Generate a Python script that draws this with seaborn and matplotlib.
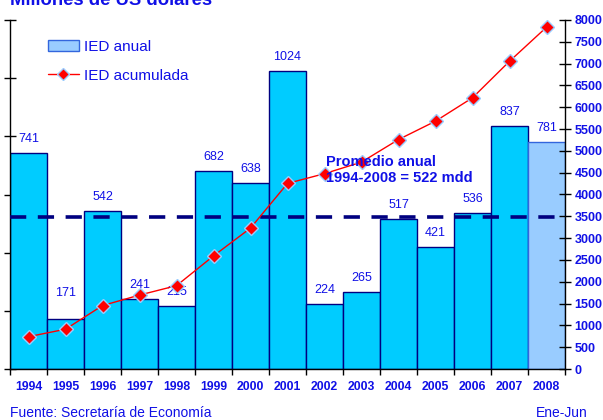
import numpy as np
import pandas as pd
import matplotlib
matplotlib.use('Agg')
import matplotlib.pyplot as plt
import seaborn as sns
from matplotlib.patches import Patch
from matplotlib.lines import Line2D

# datos (millones de US dolares)
anios = ['1994', '1995', '1996', '1997', '1998', '1999', '2000', '2001',
         '2002', '2003', '2004', '2005', '2006', '2007', '2008']
ied_anual = [741, 171, 542, 241, 215, 682, 638, 1024, 224, 265, 517, 421, 536, 837, 781]
ied_acumulada = [741, 912, 1454, 1695, 1910, 2592, 3230, 4254, 4478, 4743,
                 5260, 5681, 6217, 7054, 7835]
periodo = ['Anual'] * 14 + ['Ene-Jun']
promedio = 522

azul = '#1010E6'
marino = '#000080'

df = pd.DataFrame({'Anio': anios, 'IED': ied_anual, 'Periodo': periodo})

sns.set_style('white')
plt.rcParams['font.family'] = ['Liberation Sans', 'DejaVu Sans']

fig = plt.figure(figsize=(6.03, 4.2), dpi=100)
ax = fig.add_axes([10 / 603, 1 - 369 / 420, 555 / 603, 349 / 420])

sns.barplot(data=df, x='Anio', y='IED', hue='Periodo',
            palette={'Anual': '#00CCFF', 'Ene-Jun': '#99CCFF'}, saturation=1,
            dodge=False, width=1.0, legend=False, ax=ax, zorder=2)
for i, p in enumerate(ax.patches[:len(anios)]):
    p.set_edgecolor('#3366DD' if periodo[i] == 'Ene-Jun' else marino)
    p.set_linewidth(1.0)

ax.set_xlim(-0.5, len(anios) - 0.5)
ax.set_ylim(0, 1200)
ax.set_yticks(np.arange(0, 1201, 200))
ax.set_yticklabels([])
ax.tick_params(axis='y', direction='inout', length=8, width=1, color='black', left=True)
ax.set_xticks(np.arange(len(anios)))
ax.set_xticklabels(anios, color=azul, fontsize=8.8, fontweight='bold')
ax.tick_params(axis='x', which='major', length=0, pad=9)
ax.set_xticks(np.arange(-0.5, len(anios)), minor=True)
ax.tick_params(axis='x', which='minor', direction='out', length=4, width=1,
               color='black', bottom=True)
ax.set_xlabel('')
ax.set_ylabel('')
for s in ['top', 'right']:
    ax.spines[s].set_visible(False)
for s in ['left', 'bottom']:
    ax.spines[s].set_color('black')
    ax.spines[s].set_linewidth(1)

# linea del promedio
ax.axhline(promedio, color=marino, lw=2.6, dashes=(4.5, 3.2), zorder=3, clip_on=False)

# etiquetas de valores
for i, v in enumerate(ied_anual):
    off = 26 if v == 171 else 14
    ax.annotate(str(v), (i, v), xytext=(0, off), textcoords='offset pixels',
                ha='center', va='center', color=azul, fontsize=9)

# eje derecho: IED acumulada
ax2 = ax.twinx()
sns.lineplot(x=np.arange(len(anios)), y=ied_acumulada, ax=ax2, color='red', lw=1,
             marker='D', markersize=7, markerfacecolor='red',
             markeredgecolor='#99CCFF', markeredgewidth=1)
ax2.set_ylim(0, 8000)
ax2.set_yticks(np.arange(0, 8001, 500))
ax2.set_yticklabels([str(t) for t in range(0, 8001, 500)], color=azul,
                    fontweight='bold', fontsize=9)
ax2.tick_params(axis='y', direction='inout', length=8, width=1, color='black',
                right=True, pad=3)
ax2.set_ylabel('')
for s in ['top', 'left', 'bottom']:
    ax2.spines[s].set_visible(False)
ax2.spines['right'].set_color('black')
ax2.spines['right'].set_linewidth(1)

ax2.text(8.05, 4567, 'Promedio anual\n1994-2008 = 522 mdd', color=azul,
         fontsize=10.5, fontweight='bold', ha='left', va='center', linespacing=1.15,
         zorder=5)

handles = [Patch(facecolor='#99CCFF', edgecolor='#3366DD', lw=1),
           Line2D([], [], color='red', lw=1, marker='D', markersize=6,
                  markerfacecolor='red', markeredgecolor='#99CCFF')]
leg = ax2.legend(handles, ['IED anual', 'IED acumulada'], loc='upper left',
                 bbox_to_anchor=(48 / 603, 1 - 40 / 420), bbox_transform=fig.transFigure,
                 frameon=False, fontsize=11, borderpad=0, borderaxespad=0,
                 labelspacing=0.95, handlelength=2.0, handletextpad=0.35)
for t in leg.get_texts():
    t.set_color(azul)

fig.text(10 / 603, 1 - 5 / 420, 'Millones de US dólares', color=azul, fontsize=13.3,
         fontweight='bold', ha='left', va='baseline')
fig.text(10 / 603, 1 - 413 / 420, 'Fuente: Secretaría de Economía', color=azul,
         fontsize=10, ha='left', va='center')
fig.text(536 / 603, 1 - 413 / 420, 'Ene-Jun', color=azul, fontsize=10,
         ha='left', va='center')

fig.savefig('out.png', dpi=100)
